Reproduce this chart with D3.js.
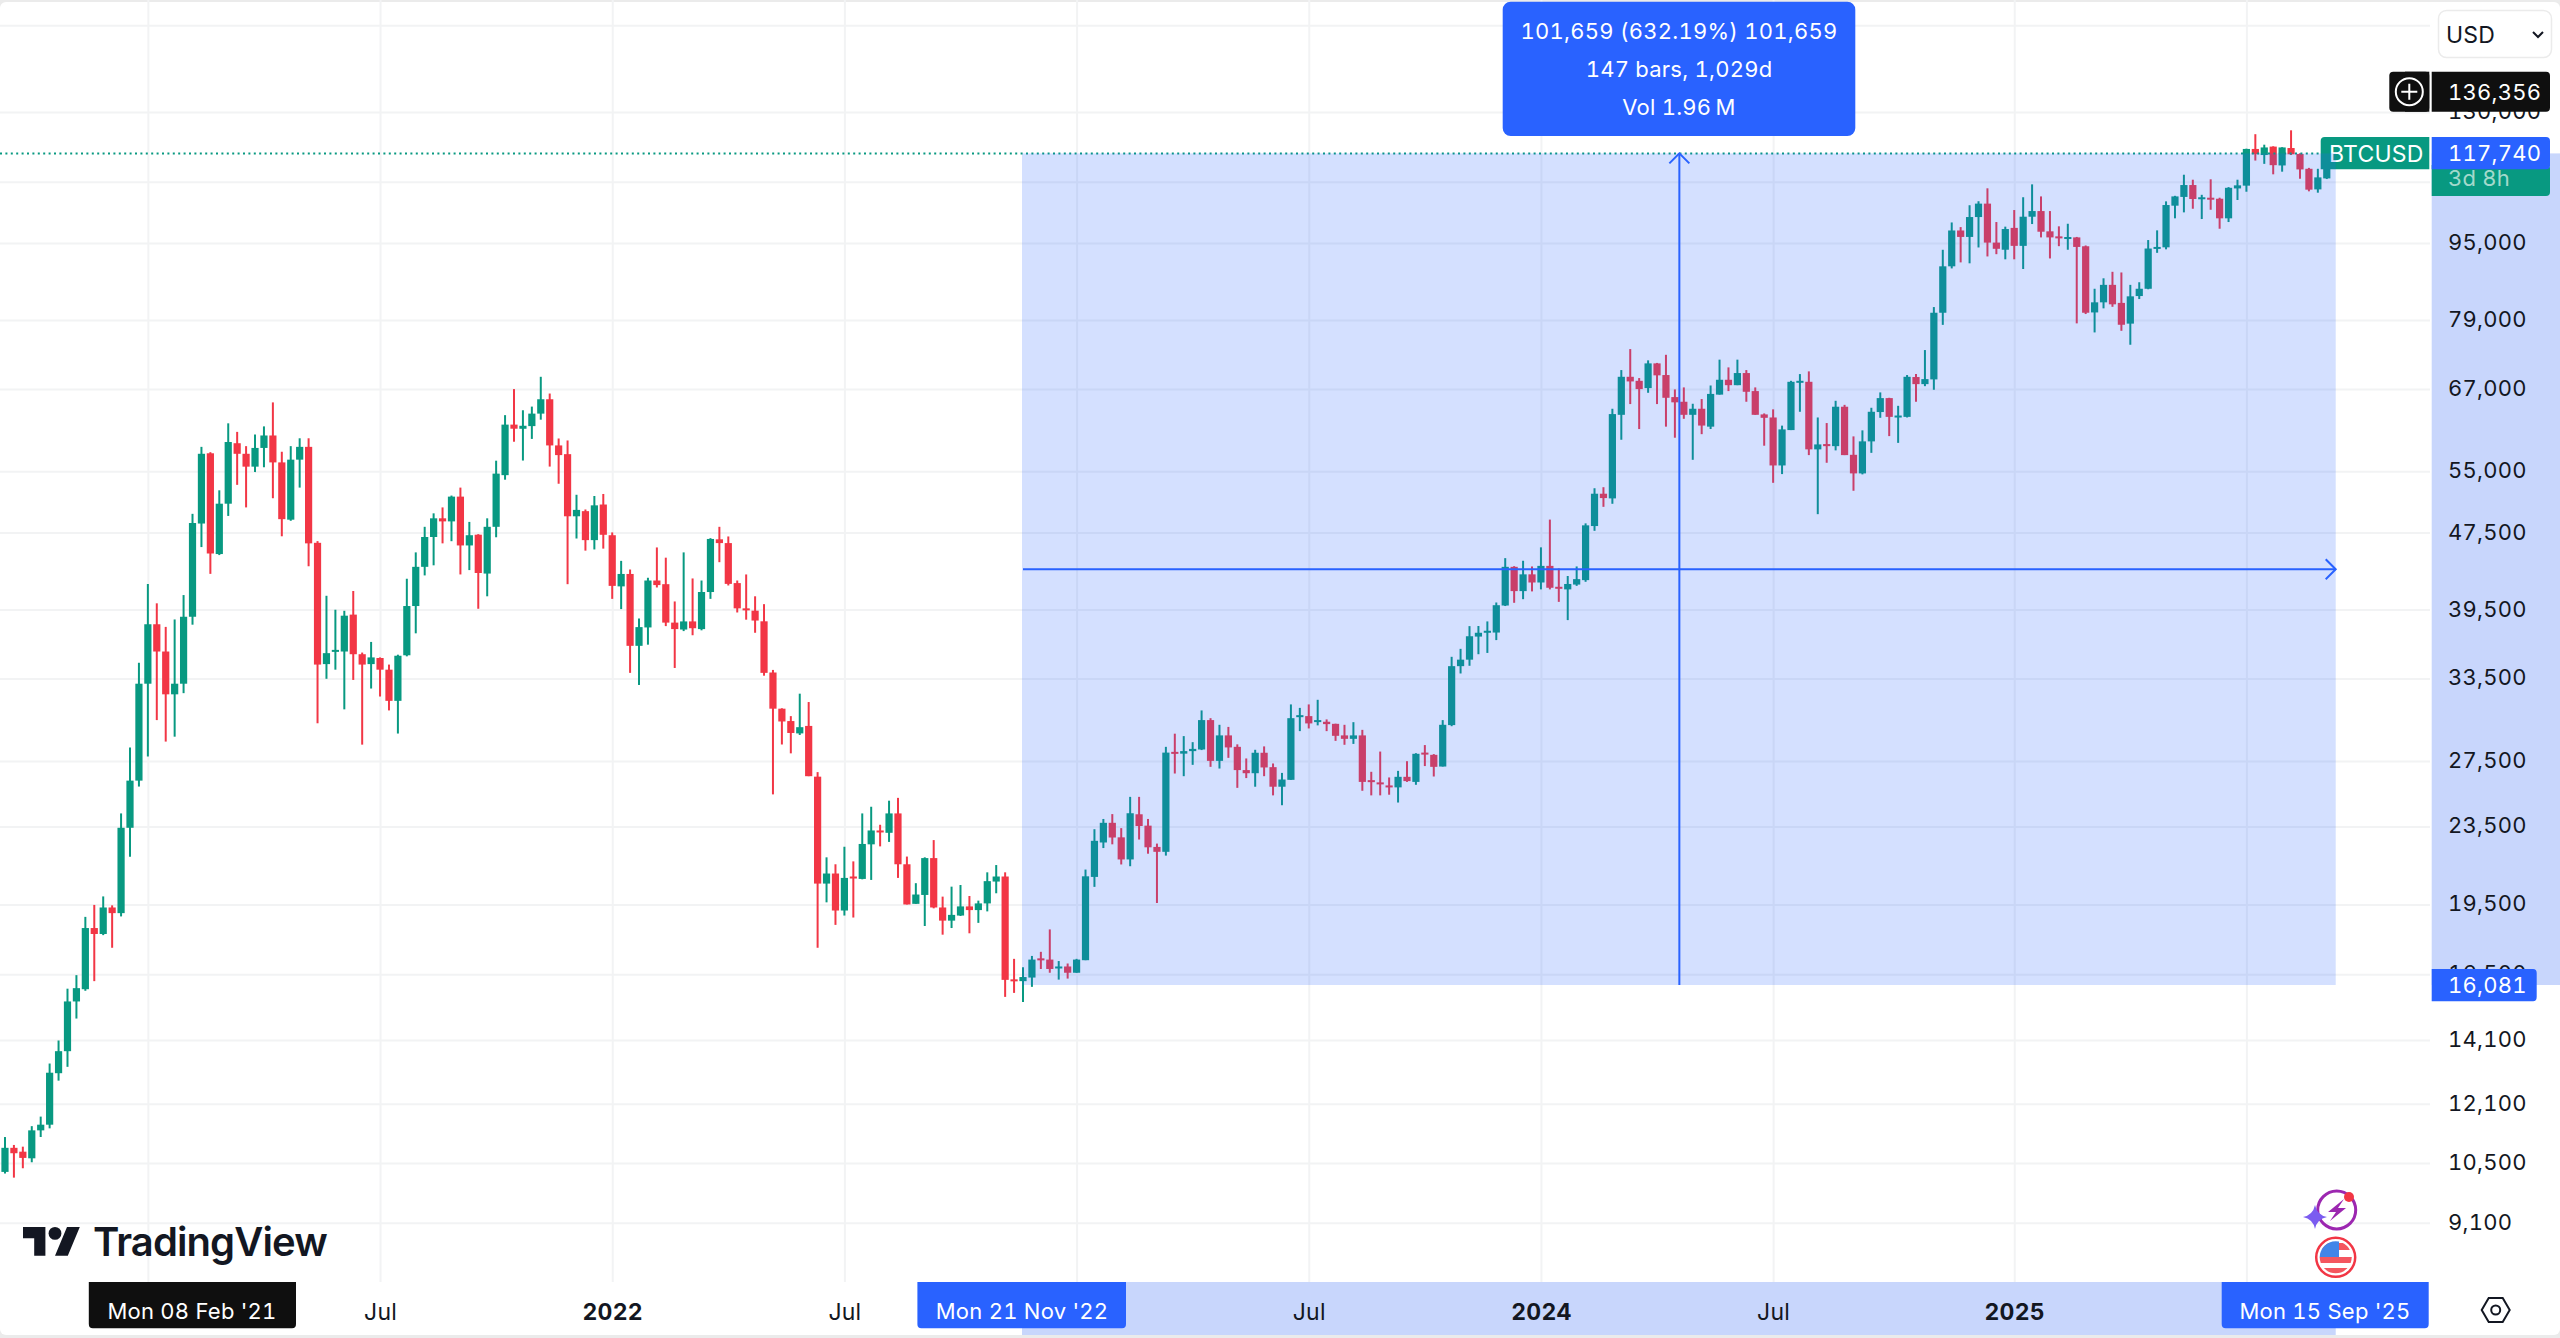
<!DOCTYPE html>
<html>
<head>
<meta charset="utf-8">
<title>BTCUSD weekly</title>
<script src="https://cdn.jsdelivr.net/npm/d3@7"></script>
<style>
  html, body { margin: 0; padding: 0; background: #fff; overflow: hidden; }
  svg { display: block; font-family: Inter, "Noto Sans", sans-serif; font-variant-numeric: tabular-nums; letter-spacing: 0.24px; }
</style>
</head>
<body>
<svg id="chart" width="2560" height="1338"></svg>
<script>
// Weekly BTCUSD candles, one entry per week starting Mon 14 Sep 2020.
const firstWeek = "2020-09-14";

const opens = [
  10280,10890,10790,10620,11355,11510,13020,13725,15460,15920,
  18430,18170,19360,19100,23430,26230,33080,38140,35730,32250,
  33080,38830,48540,57430,45120,50900,58830,57360,55620,58170,
  59930,56190,48990,56560,58320,46350,34670,35730,35730,39030,
  35500,34670,35180,34210,31750,35410,39840,43760,47000,49150,
  48790,51770,46060,47260,43060,48160,54500,61510,60900,61290,
  63150,65360,58520,57310,49390,50000,46650,50800,47200,41760,
  43020,36220,37850,42350,41980,38290,37660,38400,37700,41200,
  46740,46320,42090,39620,39400,38410,33980,31160,30250,29370,
  29900,26480,20500,21000,19220,20850,20730,22520,23280,23150,
  24250,21470,19530,19950,21790,19360,18760,18990,19410,19240,
  19550,20600,20850,16300,16230,16370,17140,17090,16730,16810,
  16560,17065,20830,22620,23710,22900,21720,24200,23550,22380,
  22120,28100,27980,28150,28260,30320,27500,29230,28440,26900,
  26700,28040,27090,25850,26280,30610,30610,30220,30200,30050,
  29230,28990,29230,26260,26120,25930,25810,26470,26150,28050,
  27900,27130,29960,34500,35040,37030,37420,37390,39890,43760,
  41290,42980,42150,43860,41720,41460,41940,42390,48250,52130,
  51550,62970,68970,68310,67130,71220,69260,65700,64970,62970,
  63890,61210,66090,68480,67600,69590,66650,63030,62570,55780,
  60710,68100,68150,57970,58710,58420,64200,57220,54730,59090,
  63390,65540,62720,62660,68930,67770,68540,80400,89850,97900,
  96400,101100,104400,95100,93490,98510,94360,101180,102560,97700,
  96530,96150,96290,94270,80460,82430,85950,82320,78330,83680,
  85150,93760,94030,103890,106090,109150,105730,105890,105630,100790,
  108270,108990,119000,117280,119670,114390,119260,117560,113480,108020,110900
];

const highs = [
  11175,10965,10920,11470,11735,13325,14080,15940,16465,18930,
  19480,19880,19460,24250,28400,34780,42000,40100,37900,38580,
  40900,49680,58320,57580,52560,61700,60450,58420,60070,61250,
  64870,57640,58420,59530,59530,46540,40830,39490,39390,41300,
  35640,36560,35230,34630,35460,42530,45300,48160,49740,50450,
  51900,52900,48730,47320,49150,56420,62920,66970,63660,64220,
  68970,66260,59500,59220,52000,50200,51850,52100,47520,44390,
  43480,38670,42630,45840,44730,40280,45300,42560,42350,46870,
  48160,47060,42350,42970,40780,40020,34190,31190,30610,32300,
  31660,26770,21830,21470,22390,21620,24250,24640,23600,25000,
  25170,21870,20520,21830,22750,19870,20350,20430,19900,19680,
  21060,21430,21060,17120,16780,17240,17410,18370,17030,16930,
  17120,21200,23350,23930,24210,23410,25230,25230,23930,22560,
  28440,29350,29180,28760,31030,30460,29980,29830,28610,27660,
  28240,28470,27330,26720,31480,31220,31480,31830,30370,30060,
  29980,30170,29620,26790,28120,26430,26850,27480,28010,28560,
  27950,30320,35280,35960,37970,37980,38400,40180,44680,43830,
  44400,43800,45850,49000,43590,42810,43800,48560,52820,52950,
  63890,70090,73700,68760,71740,71300,72700,66920,67240,64660,
  65390,67550,71860,70540,71860,70090,67240,63180,63800,61360,
  68310,69420,69870,62570,61740,65120,64490,59800,60670,64040,
  66440,65590,64340,69260,69420,73530,81500,93480,99800,98700,
  104000,105000,108300,99900,98800,102810,106010,109330,106220,102560,
  98880,99490,96400,94450,85150,87310,88680,88540,85950,86490,
  95685,97930,104970,106370,111880,110550,106630,110660,105890,108610,
  110550,119080,123280,120220,119760,119500,124430,117760,113730,113480,118300
];

const lows = [
  10240,10140,10370,10520,11175,11410,12790,13220,14840,15860,
  16230,18120,17580,18950,21860,25860,27790,30320,28800,29140,
  32340,38100,45880,43030,45010,49430,53250,50450,54900,55540,
  51570,47080,48860,52900,43820,30090,33470,34210,31110,33380,
  28590,32700,32080,31030,29360,35320,37320,42870,43920,46290,
  46530,42970,43420,39580,40780,46970,53910,59040,56440,59440,
  62240,55630,53390,41980,46830,45490,45620,45710,40530,39550,
  33950,32980,36320,41650,37970,34350,37520,37150,37590,40530,
  44250,41850,39230,38560,37370,33720,25380,28600,28000,29260,
  26510,17580,19600,18570,18990,18900,20710,20680,22410,22650,
  20780,19500,19530,18520,19320,18140,18430,18970,18200,18660,
  19180,20030,15630,15780,15440,16010,16710,16560,16290,16330,
  16560,17065,20340,22320,22520,21460,21370,22780,22020,19570,
  21920,26680,26510,27240,28220,27110,27000,27700,25780,26390,
  25850,26510,25320,24730,26280,29530,29720,29940,29530,28850,
  28580,28640,25600,25320,25320,25360,24890,26150,25970,27160,
  26490,27130,29880,33900,34530,35500,35610,36720,39840,40150,
  40500,41260,41460,41460,40240,38520,41810,42220,47700,50520,
  50890,59320,64610,60860,66380,64610,61210,59610,62370,56540,
  60120,60860,66090,66650,67600,64970,62970,58480,53510,54640,
  60710,63430,57180,49640,56140,57830,57180,52500,54600,57490,
  62520,59840,58880,62570,64970,67440,66860,78100,89400,90700,
  90500,94000,92000,92500,91370,91370,89270,99420,96290,91560,
  94290,93490,78380,80150,76700,81250,81550,77000,74470,83080,
  85050,92800,93580,100790,102240,103130,100620,102880,98310,99900,
  105305,107420,115740,114830,111990,112700,117280,110810,107520,107170,110730
];

const closes = [
  10890,10750,10630,11355,11510,13035,13725,15460,15960,18430,
  18170,19360,19100,23430,26230,33080,38140,35730,32250,33080,
  38830,48600,57360,45180,50900,59000,57360,55620,58170,59930,
  56190,49050,56560,58320,46290,34630,35590,35870,38930,35500,
  34630,35230,34210,31750,35370,39840,43760,47000,49150,48790,
  51770,46060,47200,43120,48160,54700,61510,60910,61340,63150,
  65360,58520,57180,49390,50150,46650,50700,47250,41810,43020,
  36220,37880,42350,41890,38290,37700,38400,37780,41200,46780,
  46320,42010,39620,39430,38480,33950,31160,30220,29400,29810,
  26510,20500,21000,19220,20780,20770,22540,23280,23210,24250,
  21470,19500,19970,21790,19360,18760,19020,19410,19240,19550,
  20620,20850,16280,16260,16390,17090,17080,16710,16810,16560,
  17090,20860,22710,23710,22890,21720,24260,23530,22360,22120,
  28050,28020,28150,28300,30320,27500,29230,28400,26900,26700,
  28040,27070,25850,26300,30460,30680,30080,30320,30030,29200,
  28990,29230,26150,26180,26050,25810,26470,26200,27970,27970,
  27110,29980,34500,35040,37060,37370,37550,39920,43760,41290,
  42980,42150,43860,41620,41590,42000,42490,48330,52130,51590,
  63080,68970,68210,66970,71220,69210,65590,64880,62970,63890,
  61370,66200,68480,67600,69590,66540,62970,62520,55780,60810,
  68150,68310,57970,58660,58420,64200,57180,54730,59090,63430,
  65540,62660,62860,68970,67770,68590,80400,89850,97900,96400,
  101100,104400,95100,93700,98240,94360,101180,102560,97610,96290,
  96290,96380,94120,80400,82430,85950,82040,78120,83620,85150,
  93760,94120,104050,106220,109150,105560,106000,105630,100790,108430,
  109070,119000,117520,119430,114470,119430,117490,113310,107950,111170,117740
];

// Price axis: labelled ticks, plus grid levels whose labels sit behind the corner widgets.
const priceTicks = [130000,95000,79000,67000,55000,47500,39500,33500,27500,23500,19500,16500,14100,12100,10500,9100];
const priceGridOnly = [160000,110000];
// Time axis: labelled ticks, plus grid positions covered by the date chips.
const timeTicks = ["2021-07-05","2022-01-03","2022-07-04","2023-07-03","2024-01-01","2024-07-01","2025-01-06"];
const timeTickLabels = ["Jul","2022","Jul","Jul","2024","Jul","2025"];
const timeGridOnly = ["2021-01-04","2023-01-02","2025-07-07"];
const yearLabels = ["2022","2024","2025"];

// Price range tool endpoints and readouts.
const measureStartDate = "2022-11-21";
const measureEndDate = "2025-09-15";
const measureLow = 16081;
const lastPrice = 117740;
const crosshairPrice = 136356;
const symbolName = "BTCUSD";
const countdownText = "3d 8h";
const measureLines = ["101,659 (632.19%) 101,659", "147 bars, 1,029d", "Vol 1.96\u2009M"];
const dateLabels = ["Mon 08 Feb '21", "Mon 21 Nov '22", "Mon 15 Sep '25"];

const GREEN = "#089981", RED = "#f23645", BLUE = "#2962ff", INK = "#131722", GRID = "#f2f3f4", BAND = "#c8d6fc";
const W = 2560, H = 1338, paneRight = 2430, paneBottom = 1282, LABEL_SIZE = 22;

const svg = d3.select("#chart");
const parse = d3.utcParse("%Y-%m-%d");
const start = parse(firstWeek);
const weekDate = i => d3.utcMonday.offset(start, i);

const x = d3.scaleUtc()
  .domain([parse(measureStartDate), parse(measureEndDate)])
  .range([1023, 1023 + 147 * 8.93]);
const y = d3.scaleLog()
  .domain([lastPrice, measureLow])
  .range([153.4, 985]);

// Outer frame strips and the pane background.
svg.append("rect").attr("width", W).attr("height", H).attr("fill", "#ebebeb");
svg.append("rect").attr("y", 2).attr("width", W).attr("height", H - 5).attr("rx", 6).attr("fill", "#fff");

// Grid.
const gridX = d3.axisBottom(x).tickValues(timeTicks.concat(timeGridOnly).map(parse)).tickSize(paneBottom).tickFormat("");
const gridY = d3.axisRight(y).tickValues(priceTicks.concat(priceGridOnly)).tickSize(paneRight).tickFormat("");
const grid = svg.append("g");
grid.append("g").call(gridX);
grid.append("g").call(gridY);
grid.selectAll(".domain").remove();
grid.selectAll("line").attr("stroke", GRID).attr("stroke-width", 2);

// Candles.
const idx = d3.range(closes.length);
const colour = i => closes[i] >= opens[i] ? GREEN : RED;
const candles = svg.append("g");
candles.selectAll("line").data(idx).join("line")
  .attr("x1", i => x(weekDate(i))).attr("x2", i => x(weekDate(i)))
  .attr("y1", i => y(highs[i])).attr("y2", i => y(lows[i]))
  .attr("stroke", colour).attr("stroke-width", 2);
candles.selectAll("rect").data(idx).join("rect")
  .attr("x", i => x(weekDate(i)) - 3.6).attr("width", 7.2)
  .attr("y", i => y(Math.max(opens[i], closes[i])))
  .attr("height", i => Math.max(2, Math.abs(y(opens[i]) - y(closes[i]))))
  .attr("fill", colour);

// Last-price dotted line and symbol tag.
svg.append("line")
  .attr("x1", 0).attr("x2", 2322).attr("y1", y(lastPrice)).attr("y2", y(lastPrice))
  .attr("stroke", GREEN).attr("stroke-width", 2).attr("stroke-dasharray", "2 3.4");
const tag = svg.append("g");
tag.append("path").attr("fill", GREEN)
  .attr("d", "M2324.7 137H2429.3V169.3H2320.7V141Q2320.7 137 2324.7 137Z");
tag.append("text").attr("x", 2329).attr("y", 153.4).attr("dy", "0.36em")
  .attr("fill", "#fff").attr("font-size", 23).text(symbolName);

// Price range tool.
const mx0 = x(parse(measureStartDate)), mx1 = x(parse(measureEndDate));
const my0 = y(lastPrice), my1 = y(measureLow);
const midX = (mx0 + mx1) / 2, midY = (my0 + my1) / 2;
svg.append("rect").attr("x", mx0 - 1).attr("y", my0).attr("width", mx1 - mx0 + 1).attr("height", my1 - my0)
  .attr("fill", BLUE).attr("fill-opacity", 0.2);
const arrows = svg.append("g").attr("fill", "none").attr("stroke", BLUE).attr("stroke-width", 2);
arrows.append("path").attr("d", d3.line()([[midX, my1], [midX, my0]]));
arrows.append("path").attr("d", d3.line()([[midX - 10, my0 + 10], [midX, my0], [midX + 10, my0 + 10]]));
arrows.append("path").attr("d", d3.line()([[mx0, midY], [mx1, midY]]));
arrows.append("path").attr("d", d3.line()([[mx1 - 10, midY - 10], [mx1, midY], [mx1 - 10, midY + 10]]));

// Axis highlight bands for the selected range.
svg.append("rect").attr("x", 2431.7).attr("y", my0).attr("width", W - 2431.7).attr("height", my1 - my0).attr("fill", BAND);
svg.append("rect").attr("x", mx0 - 1).attr("y", paneBottom).attr("width", mx1 - mx0 + 1).attr("height", H - 3 - paneBottom).attr("fill", BAND);

// Price axis.
const priceAxis = svg.append("g").attr("transform", "translate(2448,-0.6)")
  .call(d3.axisRight(y).tickValues(priceTicks).tickSize(0).tickPadding(0).tickFormat(d3.format(",")));
priceAxis.select(".domain").remove();
priceAxis.selectAll("text").attr("font-family", "Inter").attr("font-size", LABEL_SIZE).attr("fill", INK).attr("text-anchor", "start");

// Time axis.
const timeAxis = svg.append("g").attr("transform", `translate(0,${paneBottom})`)
  .call(d3.axisBottom(x).tickValues(timeTicks.map(parse)).tickSize(0).tickPadding(0)
    .tickFormat((d, i) => timeTickLabels[i]));
timeAxis.select(".domain").remove();
timeAxis.selectAll("text")
  .attr("y", 29.5).attr("dy", "0.36em")
  .attr("font-family", "Inter").attr("font-size", 23).attr("fill", INK)
  .attr("font-weight", (d, i) => yearLabels.includes(timeTickLabels[i]) ? 700 : 400);

// Label boxes over the price axis.
function priceLabel(top, bottom, textY, fill, textValue, textFill) {
  const g = svg.append("g");
  g.append("path").attr("fill", fill)
    .attr("d", `M2431.7 ${top}H2546Q2550 ${top} 2550 ${top + 4}V${bottom - 4}Q2550 ${bottom} 2546 ${bottom}H2431.7Z`);
  g.append("text").attr("x", 2448).attr("y", textY).attr("dy", "0.36em")
    .attr("fill", textFill).attr("font-size", LABEL_SIZE).text(textValue);
}
priceLabel(165, 196, 178, GREEN, countdownText, "#a3d9cc");
priceLabel(137, 169.3, 153.4, BLUE, d3.format(",")(lastPrice), "#fff");
priceLabel(71.7, 111.7, 91.7, "#0f0f0f", d3.format(",")(crosshairPrice), "#fff");

// Low end of the selection (narrower box than the others).
const lowTag = svg.append("g");
lowTag.append("path").attr("fill", BLUE).attr("d", "M2431.7 969H2533Q2536.7 969 2536.7 973V997Q2536.7 1001.3 2533 1001.3H2431.7Z");
lowTag.append("text").attr("x", 2448).attr("y", y(measureLow)).attr("dy", "0.36em")
  .attr("fill", "#fff").attr("font-size", LABEL_SIZE).text(d3.format(",")(measureLow));

// Crosshair "add" button.
const plus = svg.append("g");
plus.append("rect").attr("x", 2389.3).attr("y", 71.7).attr("width", 40).attr("height", 40).attr("rx", 4).attr("fill", "#0f0f0f");
plus.append("rect").attr("x", 2405).attr("y", 71.7).attr("width", 24.3).attr("height", 40).attr("fill", "#0f0f0f");
plus.append("circle").attr("cx", 2409.3).attr("cy", 91.7).attr("r", 13.5).attr("fill", "none").attr("stroke", "#fff").attr("stroke-width", 2);
plus.append("path").attr("stroke", "#fff").attr("stroke-width", 2)
  .attr("d", d3.line()([[2401.3, 91.7], [2417.3, 91.7]]) + d3.line()([[2409.3, 83.7], [2409.3, 99.7]]));

// Date chips on the time axis.
const chips = [
  { x0: 88.8, x1: 296, cx: 192, fill: "#0f0f0f", text: dateLabels[0] },
  { x0: 917.4, x1: 1126, cx: 1022, fill: BLUE, text: dateLabels[1] },
  { x0: 2221.7, x1: 2428.7, cx: 2325, fill: BLUE, text: dateLabels[2] }
];
const chip = svg.append("g").selectAll("g").data(chips).join("g");
chip.append("path").attr("fill", d => d.fill)
  .attr("d", d => `M${d.x0} 1282H${d.x1}V1324Q${d.x1} 1328.3 ${d.x1 - 4} 1328.3H${d.x0 + 4}Q${d.x0} 1328.3 ${d.x0} 1324Z`);
chip.append("text").attr("x", d => d.cx).attr("y", 1311.5).attr("dy", "0.36em").attr("text-anchor", "middle")
  .attr("fill", "#fff").attr("font-size", LABEL_SIZE).text(d => d.text);

// Range tool readout.
const tip = svg.append("g");
tip.append("rect").attr("x", 1502.7).attr("y", 1.7).attr("width", 352.6).attr("height", 134.3).attr("rx", 8).attr("fill", BLUE);
tip.selectAll("text").data(measureLines).join("text")
  .attr("x", 1679).attr("y", (d, i) => 31 + i * 38).attr("dy", "0.36em").attr("text-anchor", "middle")
  .attr("fill", "#fff").attr("font-size", LABEL_SIZE).text(d => d);

// Currency selector.
const sel = svg.append("g");
sel.append("rect").attr("x", 2438.5).attr("y", 10.5).attr("width", 113).attr("height", 47).attr("rx", 8)
  .attr("fill", "#fff").attr("stroke", "#ebebeb").attr("stroke-width", 1.5);
sel.append("text").attr("x", 2446).attr("y", 35).attr("dy", "0.36em").attr("fill", INK).attr("font-size", 23).text("USD");
sel.append("path").attr("fill", "none").attr("stroke", INK).attr("stroke-width", 2)
  .attr("d", d3.line()([[2533, 32], [2538, 37], [2543, 32]]));

// Settings hexagon.
const gear = svg.append("g").attr("fill", "none").attr("stroke", INK).attr("stroke-width", 2);
gear.append("path").attr("d", d3.line()([[2481.7, 1310], [2488.7, 1298], [2502.7, 1298], [2509.7, 1310], [2502.7, 1322], [2488.7, 1322]]) + "Z");
gear.append("circle").attr("cx", 2495.7).attr("cy", 1310).attr("r", 4.5);

// Wordmark.
const logo = svg.append("g");
logo.append("path").attr("fill", INK).attr("transform", "translate(23,1220.6) scale(1.6)")
  .attr("d", "M14 22H7V11H0V4h14v18zM28 22h-8l7.5-18h8L28 22z");
logo.append("circle").attr("fill", INK).attr("cx", 23 + 20 * 1.6).attr("cy", 1220.6 + 8 * 1.6).attr("r", 6.4);
logo.append("text").attr("x", 93).attr("y", 1256).attr("fill", INK)
  .attr("font-family", "Inter").attr("font-size", 40).attr("font-weight", 600).attr("letter-spacing", -0.9).text("TradingView");

// Promo badge: lightning ring with a spark and a red dot.
const badge = svg.append("g");
badge.append("circle").attr("cx", 2336.7).attr("cy", 1210).attr("r", 19).attr("fill", "none").attr("stroke", "#9c27b0").attr("stroke-width", 3);
badge.append("path").attr("fill", "#9c27b0").attr("d", "M2344 1199L2328 1212H2336L2330 1221L2346 1208H2338Z");
badge.append("path").attr("fill", "#7b5cf0").attr("d", "M2315 1205Q2317 1215 2327 1217Q2317 1219 2315 1229Q2313 1219 2303 1217Q2313 1215 2315 1205Z");
badge.append("circle").attr("cx", 2349).attr("cy", 1197).attr("r", 5).attr("fill", RED);

// Flag badge.
const flag = svg.append("g");
flag.append("clipPath").attr("id", "flagClip").append("circle").attr("cx", 2335.7).attr("cy", 1257.3).attr("r", 16);
const fg = flag.append("g").attr("clip-path", "url(#flagClip)");
fg.append("rect").attr("x", 2319).attr("y", 1241).attr("width", 34).attr("height", 34).attr("fill", "#fff");
[[1243, 7], [1257, 6], [1268, 7]].forEach(([sy, h]) =>
  fg.append("rect").attr("x", 2319).attr("y", sy).attr("width", 34).attr("height", h).attr("fill", "#f4565f"));
fg.append("rect").attr("x", 2319).attr("y", 1241).attr("width", 20).attr("height", 16).attr("fill", "#4285e8");
flag.append("circle").attr("cx", 2335.7).attr("cy", 1257.3).attr("r", 19.5).attr("fill", "none").attr("stroke", "#f23645").attr("stroke-width", 2.5);
</script>
</body>
</html>
